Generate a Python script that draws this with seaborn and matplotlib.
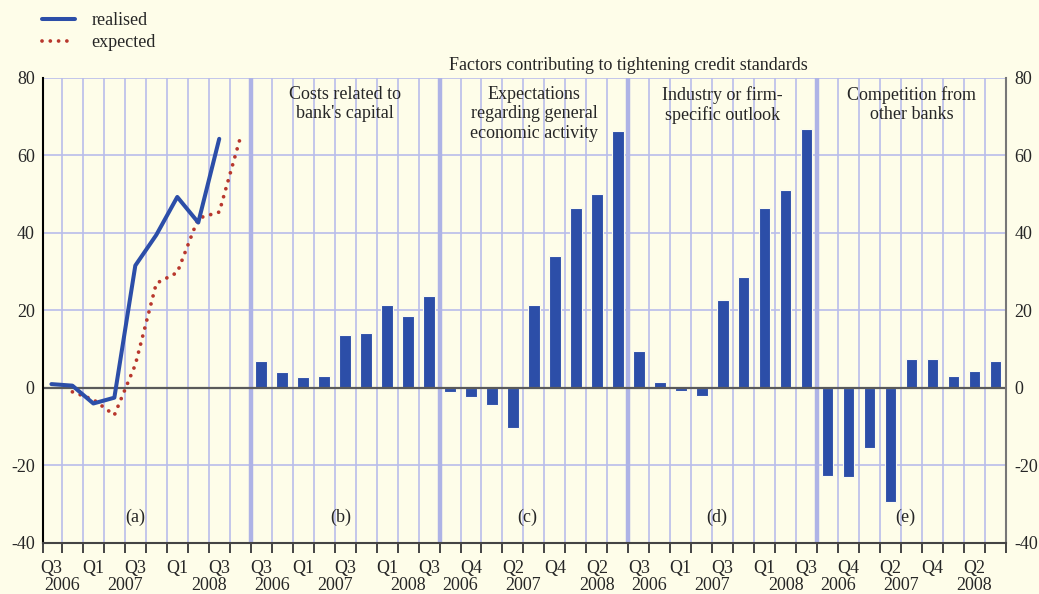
import numpy as np
import pandas as pd
import matplotlib.pyplot as plt
import matplotlib.transforms as mtransforms
import seaborn as sns

# panel (a): overall tightening, realised and expected (expected is one quarter ahead)
realised = [1.0, 0.6, -4.0, -2.5, 31.6, 39.5, 49.3, 42.7, 64.3]
expected = [-1.0, -3.0, -7.0, 6.0, 27.0, 29.8, 43.8, 45.4, 64.5]

# panels (b)-(e): factors, Q3 2006 .. Q3 2008
capital = [7.0, 4.0, 2.9, 3.1, 13.6, 14.1, 21.3, 18.6, 23.7]
economy = [-1.0, -2.4, -4.4, -10.2, 21.5, 34.0, 46.5, 50.1, 66.4]
outlook = [9.5, 1.6, -0.7, -2.0, 22.6, 28.7, 46.4, 51.2, 66.8]
competition = [-22.8, -23.1, -15.5, -29.5, 7.4, 7.4, 3.2, 4.3, 7.0]

factor_titles = ["Costs related to\nbank's capital",
                 "Expectations\nregarding general\neconomic activity",
                 "Industry or firm-\nspecific outlook",
                 "Competition from\nother banks"]
panel_tags = ['(a)', '(b)', '(c)', '(d)', '(e)']
header = 'Factors contributing to tightening credit standards'

quarter_labels = {
    'a': ['Q3', '', 'Q1', '', 'Q3', '', 'Q1', '', 'Q3', ''],
    'b': ['Q3', '', 'Q1', '', 'Q3', '', 'Q1', '', 'Q3'],
    'c': ['', 'Q4', '', 'Q2', '', 'Q4', '', 'Q2', ''],
    'd': ['Q3', '', 'Q1', '', 'Q3', '', 'Q1', '', 'Q3'],
    'e': ['', 'Q4', '', 'Q2', '', 'Q4', '', 'Q2', ''],
}
years = ['2006', '2007', '2008']

BG = '#fefde9'
GRID = '#b9bdeb'
BLUE = '#2c4ea8'
RED = '#b8372d'

sns.set_theme(style='white')
plt.rcParams['font.family'] = ['Liberation Serif', 'DejaVu Serif']
plt.rcParams['font.size'] = 13
plt.rcParams['axes.unicode_minus'] = False

fig = plt.figure(figsize=(10.39, 5.94), dpi=100, facecolor=BG)
ax = fig.add_axes([0.0414, 0.0859, 0.9268, 0.7828])
ax.set_facecolor(BG)

panel_start = [0, 10, 19, 28, 37]
panel_end = 46

# bars for the four factor panels
rows = []
for start, vals in zip(panel_start[1:], [capital, economy, outlook, competition]):
    for i, v in enumerate(vals):
        rows.append({'pos': start + i + 0.5, 'value': v})
bars = pd.DataFrame(rows)
sns.barplot(data=bars, x='pos', y='value', native_scale=True, width=0.55,
            color=BLUE, saturation=1, edgecolor='#fbfbf0', linewidth=0.8,
            errorbar=None, ax=ax, zorder=2)

sns.lineplot(x=np.arange(len(realised)) + 0.5, y=realised, ax=ax, color=BLUE,
             lw=2.9, zorder=4, label='realised', legend=False)
sns.lineplot(x=np.arange(len(expected)) + 1.5, y=expected, ax=ax, color=RED,
             lw=2.7, linestyle=(0, (0.01, 2.2)), dash_capstyle='round',
             zorder=3, label='expected', legend=False)

# grid
for y in range(-20, 81, 20):
    ax.axhline(y, color=GRID, lw=1.2, zorder=0)
for x in range(1, panel_end):
    if x in panel_start:
        ax.axvline(x, color='#aeb3e6', lw=3.2, zorder=0)
    else:
        ax.axvline(x, color=GRID, lw=1.2, zorder=0)
ax.axhline(0, color='#5a5a5a', lw=1.6, zorder=2.5)

ax.set_xlim(0.1, panel_end)
ax.set_ylim(-40, 80)
ax.set_yticks(range(-40, 81, 20))
ax.set_xlabel('')
ax.set_ylabel('')

ax.spines['top'].set_visible(False)
ax.spines['left'].set_color('black')
ax.spines['left'].set_linewidth(1.5)
ax.spines['right'].set_color('#777777')
ax.spines['right'].set_linewidth(1.5)
ax.spines['bottom'].set_color('#444444')
ax.spines['bottom'].set_linewidth(1.5)

ax.tick_params(axis='y', left=False, right=False, labelleft=True,
               labelright=True, length=0, pad=6, labelsize=13)
major = np.r_[0.1, np.arange(1, panel_end), panel_end]
ax.set_xticks(major, [''] * len(major))
ax.tick_params(axis='x', which='major', bottom=True, direction='out',
               length=7, width=1.4, color='#444444')

centers, qlabels = [], []
for key, start in zip('abcde', panel_start):
    for i, lab in enumerate(quarter_labels[key]):
        centers.append(start + i + 0.5)
        qlabels.append(lab)
ax.set_xticks(centers, qlabels, minor=True)
ax.tick_params(axis='x', which='minor', bottom=True, length=0, pad=12,
               labelsize=13)

trans = mtransforms.blended_transform_factory(ax.transData, ax.transAxes)
for key, start in zip('abcde', panel_start):
    n = len(quarter_labels[key])
    spans = [(0, 2), (2, 6), (6, n)]
    for yr, (s, e) in zip(years, spans):
        ax.text(start + (s + e) / 2, -0.091, yr, transform=trans,
                ha='center', va='center', fontsize=13)

# panel titles and tags
for start, title in zip(panel_start[1:], factor_titles):
    ax.text(start + 4.5, 78, title, ha='center', va='top', fontsize=13,
            linespacing=1.2)
for x, tag in zip([4.5, 14.3, 23.2, 32.2, 41.2], panel_tags):
    ax.text(x, -33.3, tag, ha='center', va='center', fontsize=13)
ax.text(28, 83.1, header, ha='center', va='center', fontsize=13)

handles = ax.get_lines()[:2]
fig.legend(handles, ['realised', 'expected'], loc='upper left',
           bbox_to_anchor=(0.04, 0.98), frameon=False, fontsize=13,
           handlelength=1.85, handletextpad=0.9, labelspacing=0.3,
           borderpad=0, borderaxespad=0)

fig.savefig('out.png', dpi=100, facecolor=BG)
